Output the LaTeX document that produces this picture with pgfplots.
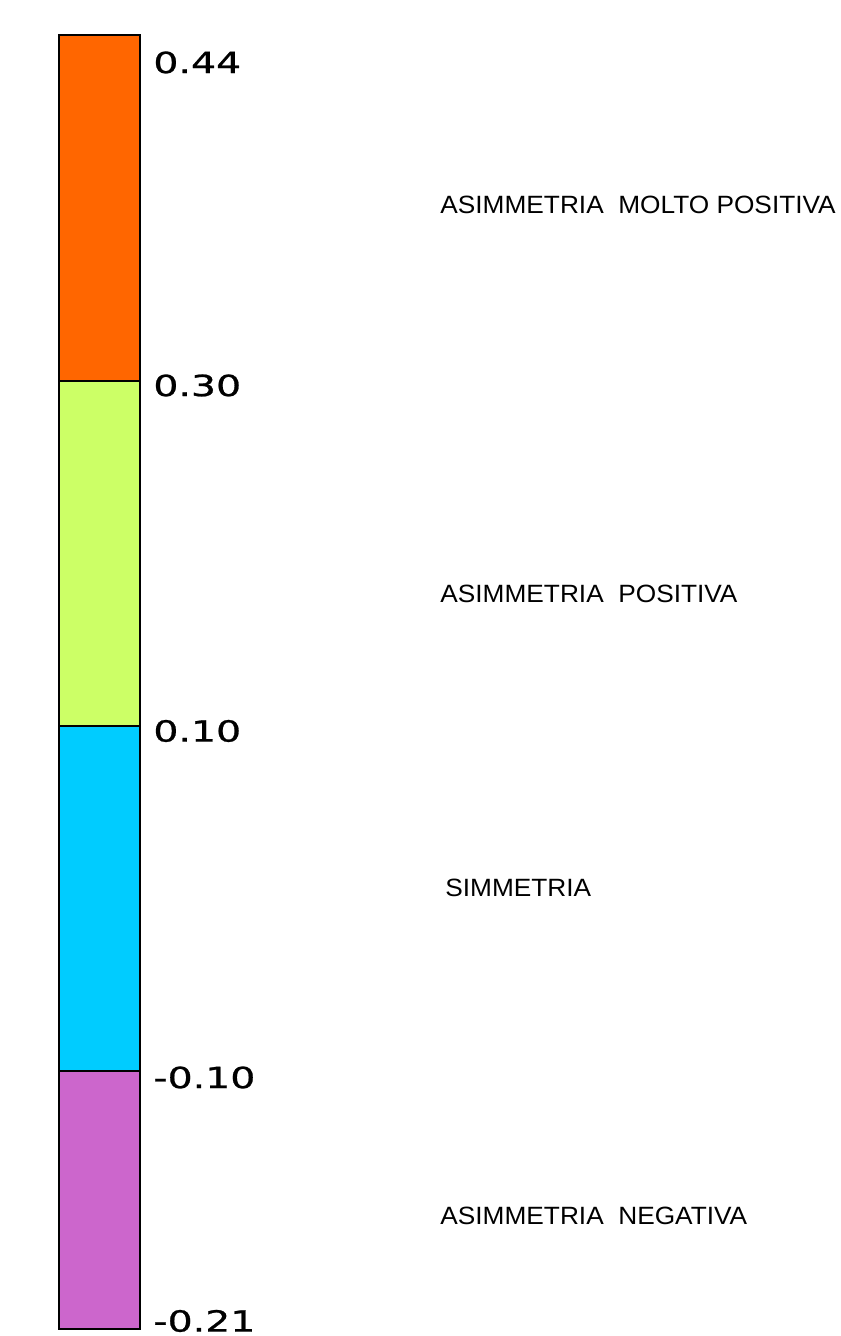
\documentclass[border=0pt]{standalone}
\usepackage{pgfplots}
\pgfplotsset{compat=1.18}
\usepackage{fontspec}
\setmainfont[FakeStretch=1.05]{Liberation Sans}
\newfontfamily\numfont[FakeStretch=1.35, FakeBold=0.8]{DejaVu Sans}

\definecolor{cmolto}{HTML}{FF6600}
\definecolor{cpos}{HTML}{CCFF66}
\definecolor{csim}{HTML}{00CCFF}
\definecolor{cneg}{HTML}{CC66CC}

\tikzset{
    lab/.style={overlay, anchor=west, inner sep=0pt, font=\fontsize{12.5pt}{14pt}\selectfont},
    num/.style={overlay, anchor=west, inner sep=0pt, font=\numfont\fontsize{14.6pt}{16pt}\selectfont},
}

\begin{document}
\begin{tikzpicture}
\begin{axis}[
    scale only axis,
    width=420pt, height=668pt,
    xmin=0, xmax=840, ymin=0, ymax=1336,
    hide axis, clip=false,
    every axis plot/.append style={draw=black, line width=1pt, mark=none},
    ]
% segments of the scale bar (position units, bottom = 7, top = 1301)
\addplot[fill=cneg]   coordinates {(59,7)   (140,7)   (140,265)  (59,265)}  -- cycle;
\addplot[fill=csim]   coordinates {(59,265) (140,265) (140,610)  (59,610)}  -- cycle;
\addplot[fill=cpos]   coordinates {(59,610) (140,610) (140,955)  (59,955)}  -- cycle;
\addplot[fill=cmolto] coordinates {(59,955) (140,955) (140,1301) (59,1301)} -- cycle;

\path[draw=none] (rel axis cs:0,0) rectangle (rel axis cs:1,1);

\node[num] at (axis cs:153,1273.5) {0.44};
\node[num] at (axis cs:153,950.5)  {0.30};
\node[num] at (axis cs:153,605)    {0.10};
\node[num] at (axis cs:153,258.5)  {-0.10};
\node[num] at (axis cs:153,15)     {-0.21};

\node[lab] at (axis cs:440,1131) {ASIMMETRIA\ \ MOLTO POSITIVA};
\node[lab] at (axis cs:440,742)  {ASIMMETRIA\ \ POSITIVA};
\node[lab] at (axis cs:445,448)  {SIMMETRIA};
\node[lab] at (axis cs:440,120)  {ASIMMETRIA\ \ NEGATIVA};
\end{axis}
\end{tikzpicture}
\end{document}
